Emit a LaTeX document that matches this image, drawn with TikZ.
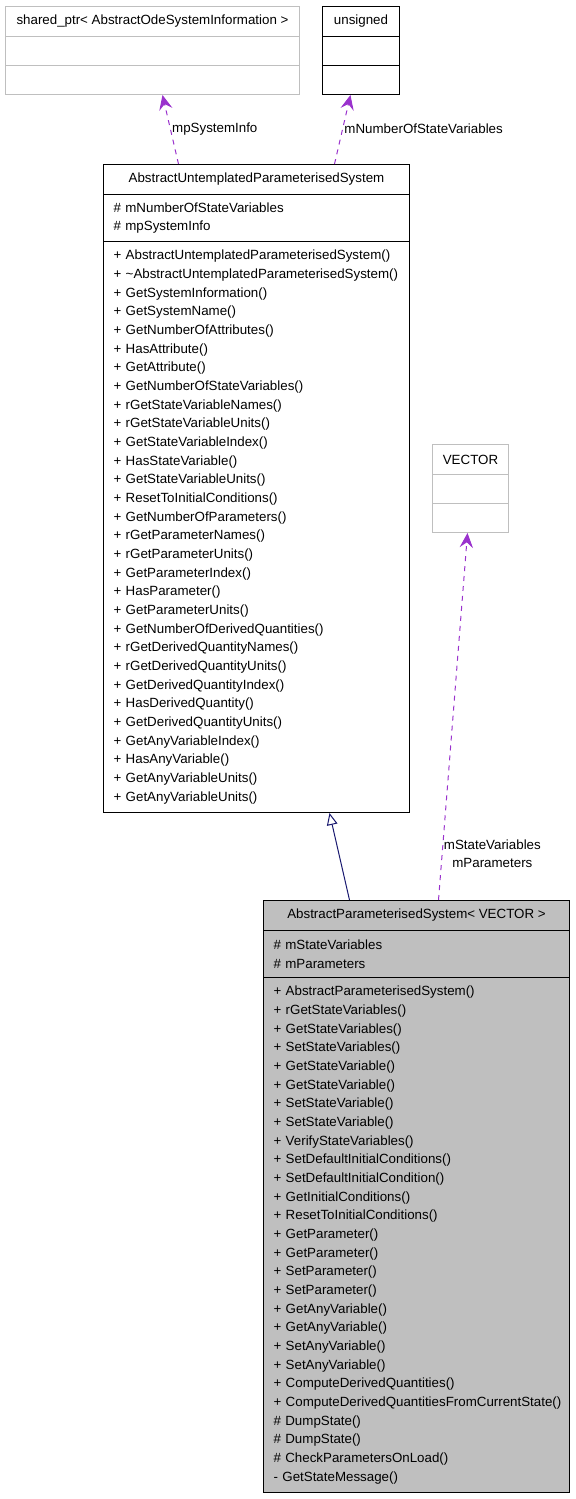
\documentclass[tikz,border=0pt]{standalone}
\usepackage{fontspec}
\setmainfont{Liberation Sans}
\usetikzlibrary{arrows.meta}
\definecolor{usagepurple}{HTML}{9A32CD}
\definecolor{inheritblue}{HTML}{191970}
\definecolor{classgray}{HTML}{BFBFBF}

\begin{document}
\begin{tikzpicture}[x=0.75pt, y=-0.75pt,
        every node/.style={font=\fontsize{10pt}{14pt}\selectfont},
        box/.style={rectangle, draw=black, line width=0.75pt, anchor=north west, inner xsep=7.5pt, inner ysep=0pt},
        extern/.style={box, draw=classgray},
        title/.style={minimum height=22.5pt},
        empty/.style={minimum height=21.75pt},
        members/.style={text width=214.5pt, align=left},
        usage/.style={draw=usagepurple, line width=0.75pt, dash pattern=on 3.75pt off 3.75pt, -{Stealth[length=11pt, width=10pt, inset=4pt]}},
        inherit/.style={draw=inheritblue, line width=0.75pt, -{Triangle[open, length=9pt, width=8pt, fill=white]}}]
        \useasboundingbox (0,0) rectangle (575,1499);

        \node[extern, title, minimum width=220.5pt] (shared-title) at(5,6){shared\_ptr< AbstractOdeSystemInformation >};
        \node[extern, empty, minimum width=220.5pt] (shared-attr) at(5,36){};
        \node[extern, empty, minimum width=220.5pt] (shared-ops) at(5,65){};

        \node[box, title, minimum width=57.75pt] (uint-title) at(322,6){unsigned};
        \node[box, empty, minimum width=57.75pt] (uint-attr) at(322,36){};
        \node[box, empty, minimum width=57.75pt] (uint-ops) at(322,65){};

        \node[extern, title, minimum width=57pt] (vector-title) at(432,444){VECTOR};
        \node[extern, empty, minimum width=57pt] (vector-attr) at(432,474){};
        \node[extern, empty, minimum width=57pt] (vector-ops) at(432,503){};

        \node[box, title, minimum width=229.5pt] (untpl-title) at(103,164){AbstractUntemplatedParameterisedSystem};
        \node[box, members, minimum height=35.25pt] (untpl-attr) at(103,194){\# mNumberOfStateVariables\\\# mpSystemInfo};
        \node[box, members, minimum height=428.25pt] (untpl-ops) at(103,241){%
            + AbstractUntemplatedParameterisedSystem()\\
            + \textasciitilde AbstractUntemplatedParameterisedSystem()\\
            + GetSystemInformation()\\
            + GetSystemName()\\
            + GetNumberOfAttributes()\\
            + HasAttribute()\\
            + GetAttribute()\\
            + GetNumberOfStateVariables()\\
            + rGetStateVariableNames()\\
            + rGetStateVariableUnits()\\
            + GetStateVariableIndex()\\
            + HasStateVariable()\\
            + GetStateVariableUnits()\\
            + ResetToInitialConditions()\\
            + GetNumberOfParameters()\\
            + rGetParameterNames()\\
            + rGetParameterUnits()\\
            + GetParameterIndex()\\
            + HasParameter()\\
            + GetParameterUnits()\\
            + GetNumberOfDerivedQuantities()\\
            + rGetDerivedQuantityNames()\\
            + rGetDerivedQuantityUnits()\\
            + GetDerivedQuantityIndex()\\
            + HasDerivedQuantity()\\
            + GetDerivedQuantityUnits()\\
            + GetAnyVariableIndex()\\
            + HasAnyVariable()\\
            + GetAnyVariableUnits()\\
            + GetAnyVariableUnits()};

        \node[box, title, fill=classgray, minimum width=229.5pt] (param-title) at(263,900){AbstractParameterisedSystem< VECTOR >};
        \node[box, members, fill=classgray, minimum height=35.25pt] (param-attr) at(263,930){\# mStateVariables\\\# mParameters};
        \node[box, members, fill=classgray, minimum height=386.25pt] (param-ops) at(263,977){%
            + AbstractParameterisedSystem()\\
            + rGetStateVariables()\\
            + GetStateVariables()\\
            + SetStateVariables()\\
            + GetStateVariable()\\
            + GetStateVariable()\\
            + SetStateVariable()\\
            + SetStateVariable()\\
            + VerifyStateVariables()\\
            + SetDefaultInitialConditions()\\
            + SetDefaultInitialCondition()\\
            + GetInitialConditions()\\
            + ResetToInitialConditions()\\
            + GetParameter()\\
            + GetParameter()\\
            + SetParameter()\\
            + SetParameter()\\
            + GetAnyVariable()\\
            + GetAnyVariable()\\
            + SetAnyVariable()\\
            + SetAnyVariable()\\
            + ComputeDerivedQuantities()\\
            \mbox{+ ComputeDerivedQuantitiesFromCurrentState()}\\
            \# DumpState()\\
            \# DumpState()\\
            \# CheckParametersOnLoad()\\
            - GetStateMessage()};

        \draw [usage] ([xshift=-58.5pt]untpl-title.north) -- node[anchor=west, pos=0.51, inner sep=1pt]{mpSystemInfo} ([xshift=7.5pt]shared-ops.south);
        \draw [usage] ([xshift=58.5pt]untpl-title.north) -- node[anchor=west, pos=0.51, inner sep=1pt]{mNumberOfStateVariables} ([xshift=-7.9pt]uint-ops.south);
        \draw [usage] ([xshift=16.5pt]param-title.north) -- node[anchor=west, pos=0.125, inner sep=1pt, align=center, font=\fontsize{10pt}{13.5pt}\selectfont]{mStateVariables\\mParameters} ([xshift=-2.25pt]vector-ops.south);
        \draw [inherit] ([xshift=-50.25pt]param-title.north) -- ([xshift=54.75pt]untpl-ops.south);

      \end{tikzpicture}
\end{document}
